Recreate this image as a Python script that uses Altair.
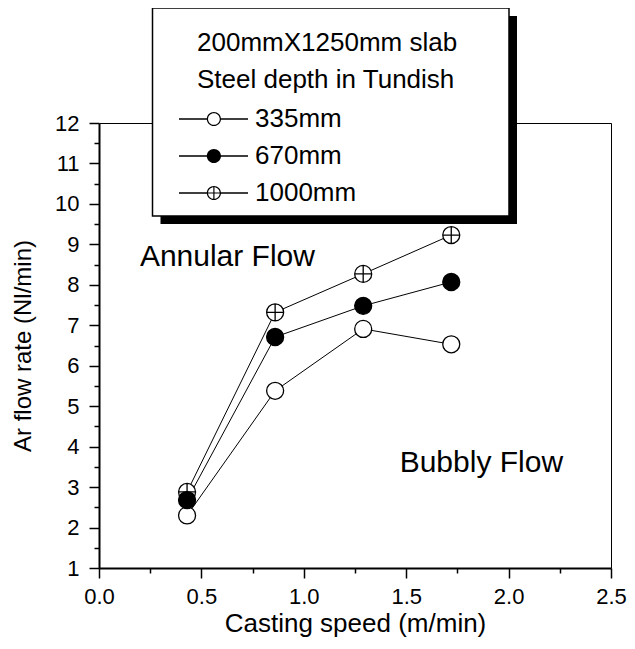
import altair as alt
import pandas as pd

FONT = "Liberation Sans"

speed = [0.43, 0.86, 1.29, 1.72]
depths = ["335mm", "670mm", "1000mm"]
flow_335 = [2.30, 5.38, 6.91, 6.53]
flow_670 = [2.68, 6.71, 7.48, 8.07]
flow_1000 = [2.88, 7.32, 8.27, 9.23]

legend_title = ["200mmX1250mm slab", "Steel depth in Tundish"]

x_ticks = [0.0, 0.5, 1.0, 1.5, 2.0, 2.5]
x_minor = [0.25, 0.75, 1.25, 1.75, 2.25]
y_ticks = [1, 2, 3, 4, 5, 6, 7, 8, 9, 10, 11, 12]
y_minor = [1.5, 2.5, 3.5, 4.5, 5.5, 6.5, 7.5, 8.5, 9.5, 10.5, 11.5]

note_text = ["Annular Flow", "Bubbly Flow"]
note_x = [0.627, 1.867]
note_y = [8.68, 3.585]

# draw order: 1000mm first, then 335mm, then 670mm on top
rows = []
for name, vals in [("1000mm", flow_1000), ("335mm", flow_335), ("670mm", flow_670)]:
    for s, v in zip(speed, vals):
        rows.append({"speed": s, "flow": v, "depth": name})
df = pd.DataFrame(rows)
notes_df = pd.DataFrame({"nx": note_x, "ny": note_y, "label": note_text})
one = pd.DataFrame({"k": [0]})

# plot marker shapes (unit circle, stroked)
CIRC = "M1,0A1,1,0,1,1,-1,0A1,1,0,1,1,1,0Z"
PLUS = CIRC + "M-1,0L1,0M0,-1L0,1"


# legend symbols built as filled outlines: line - marker - line
def _f(v):
    return f"{v:.3f}"


def disk(cx, r, sweep=1):
    return (f"M{_f(cx + r)},0A{_f(r)},{_f(r)},0,1,{sweep},{_f(cx - r)},0"
            f"A{_f(r)},{_f(r)},0,1,{sweep},{_f(cx + r)},0Z")


def bar(x0, y0, x1, y1):
    return f"M{_f(x0)},{_f(y0)}L{_f(x1)},{_f(y0)}L{_f(x1)},{_f(y1)}L{_f(x0)},{_f(y1)}Z"


cx, ro, ri, h = 0.6, 1.09, 0.90, 0.11
side = bar(-4.77, -h, cx - ro + 0.05, h) + bar(cx + ro - 0.05, -h, 5.85, h)
LEG_OPEN = disk(cx, ro, 1) + disk(cx, ri, 0) + side
LEG_FULL = disk(cx, ro, 1) + side
LEG_CROSS = LEG_OPEN + bar(cx - ri, -h + 0.02, cx + ri, h - 0.02) + bar(cx - h + 0.02, -ri, cx + h - 0.02, ri)

xs = alt.Scale(domain=[0, 2.5], nice=False, zero=False)
ys = alt.Scale(domain=[1, 12], nice=False, zero=False)

shadow = alt.Chart(one).mark_rect(color="black").encode(
    x=alt.value(61.5), x2=alt.value(418), y=alt.value(-107), y2=alt.value(101)
)
box = alt.Chart(one).mark_rect(fill="white", stroke="black", strokeWidth=1.5).encode(
    x=alt.value(53.5), x2=alt.value(410), y=alt.value(-115), y2=alt.value(93)
)

lines = alt.Chart(df).mark_line(color="black", strokeWidth=1).encode(
    x=alt.X("speed:Q", scale=xs, axis=alt.Axis(
        orient="bottom", values=x_ticks, format=".1f", title="Casting speed (m/min)",
        labelFont=FONT, labelFontSize=22, labelColor="black", labelPadding=8,
        labelFlush=False, labelOverlap=False,
        tickSize=10, tickWidth=1.5, tickColor="black",
        domainWidth=2, domainColor="black", grid=False,
        titleFont=FONT, titleFontSize=26, titleFontWeight="normal", titleColor="black",
        titlePadding=3, zindex=0)),
    y=alt.Y("flow:Q", scale=ys, axis=alt.Axis(
        orient="left", values=y_ticks, format="d", title="Ar flow rate (Nl/min)",
        labelFont=FONT, labelFontSize=22, labelColor="black", labelPadding=10,
        labelOverlap=False, labelFlush=False,
        tickSize=10, tickWidth=1.5, tickColor="black",
        domainWidth=2, domainColor="black", grid=False,
        titleFont=FONT, titleFontSize=24, titleFontWeight="normal", titleColor="black",
        titlePadding=19, zindex=0)),
    detail="depth:N",
    order="speed:Q",
)

points = alt.Chart(df).mark_point(filled=True, stroke="black", strokeWidth=1.3, size=289, opacity=1).encode(
    x=alt.X("speed:Q", scale=xs, axis=None),
    y=alt.Y("flow:Q", scale=ys, axis=None),
    shape=alt.Shape("depth:N", scale=alt.Scale(domain=depths, range=[CIRC, CIRC, PLUS]), legend=None),
    fill=alt.Fill("depth:N", scale=alt.Scale(domain=depths, range=["white", "black", "white"]), legend=None),
)

LEG = alt.Legend(
    title=legend_title, orient="none", legendX=98, legendY=-93, padding=0,
    titleFont=FONT, titleFontSize=26, titleFontWeight="normal", titleColor="black",
    titleAlign="left", titleAnchor="start", titleLineHeight=37, titlePadding=13,
    titleLimit=600, labelLimit=300,
    labelFont=FONT, labelFontSize=26, labelColor="black", labelOffset=32,
    rowPadding=11, symbolSize=169, symbolStrokeWidth=0, symbolOpacity=1,
)

legend_layer = alt.Chart(df).transform_filter("datum.speed < -10").mark_point(
    filled=True, opacity=1
).encode(
    x=alt.X("speed:Q", scale=xs, axis=alt.Axis(
        orient="bottom", values=x_minor, labels=False, domain=False, grid=False,
        tickSize=5, tickWidth=1.5, tickColor="black", title=None, zindex=0)),
    y=alt.Y("flow:Q", scale=ys, axis=alt.Axis(
        orient="left", values=y_minor, labels=False, domain=False, grid=False,
        tickSize=5, tickWidth=1.5, tickColor="black", title=None, zindex=0)),
    shape=alt.Shape("depth:N", scale=alt.Scale(domain=depths, range=[LEG_OPEN, LEG_FULL, LEG_CROSS]), legend=LEG),
    fill=alt.Fill("depth:N", scale=alt.Scale(domain=depths, range=["black", "black", "black"]), legend=LEG),
)

notes = alt.Chart(notes_df).mark_text(font=FONT, fontSize=30, color="black").encode(
    x=alt.X("nx:Q", scale=xs, axis=alt.Axis(
        orient="top", ticks=False, labels=False, domain=True, domainColor="black",
        domainWidth=1, grid=False, title=None, zindex=0)),
    y=alt.Y("ny:Q", scale=ys, axis=alt.Axis(
        orient="right", ticks=False, labels=False, domain=True, domainColor="black",
        domainWidth=1, grid=False, title=None, zindex=0)),
    text="label:N",
)

chart = alt.layer(shadow, box, lines, points, legend_layer, notes).resolve_scale(
    shape="independent", fill="independent"
).resolve_axis(
    x="independent", y="independent"
).properties(
    width=512, height=445,
    autosize=alt.AutoSizeParams(type="none"),
    padding={"left": 91, "top": 115, "right": 16, "bottom": 72},
).configure_view(stroke=None).configure(background="white")

chart.save("out.html", embed_options={"renderer": "svg", "actions": False})
